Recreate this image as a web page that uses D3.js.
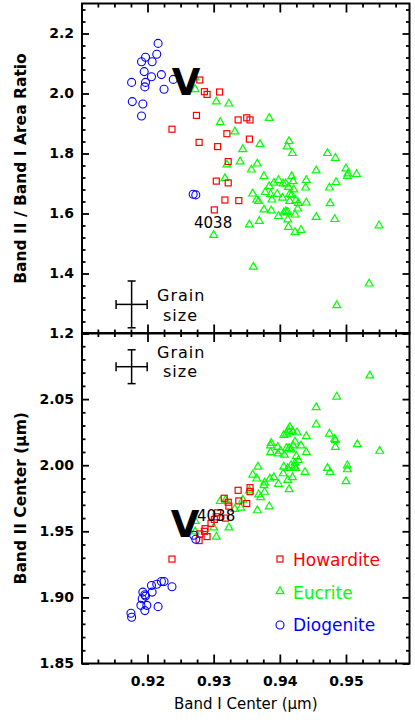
<!DOCTYPE html>
<html>
<head>
<meta charset="utf-8">
<script src="https://cdn.jsdelivr.net/npm/d3@7"></script>
<style>
html,body{margin:0;padding:0;background:#fff;}
svg{display:block;}
text{font-family:"DejaVu Sans",sans-serif;}
</style>
</head>
<body>
<svg id="chart" width="415" height="723"></svg>
<script>
// ---------------- DATA ----------------
const xTickLabels = ["0.92","0.93","0.94","0.95"];
const xMajor = [0.92,0.93,0.94,0.95];
const topYTicks = [1.2,1.4,1.6,1.8,2.0,2.2];
const topYLabels = ["1.2","1.4","1.6","1.8","2.0","2.2"];
const botYTicks = [1.85,1.90,1.95,2.00,2.05];
const botYLabels = ["1.85","1.90","1.95","2.00","2.05"];

// Top panel: Band I center vs Band II / Band I area ratio
const diogeniteTop = [[0.9216,2.167],[0.9214,2.131],[0.9197,2.121],[0.9191,2.106],[0.9207,2.106],[0.9195,2.073],[0.9221,2.063],[0.9206,2.056],[0.9239,2.047],[0.9176,2.037],[0.9197,2.037],[0.9196,2.022],[0.9225,2.014],[0.9177,1.973],[0.9193,1.965],[0.9191,1.925],[0.9269,1.664],[0.9273,1.662]];
const howarditeTop = [[0.9279,2.045],[0.9286,2.006],[0.9290,1.997],[0.9309,2.005],[0.9274,1.927],[0.9337,1.912],[0.9350,1.919],[0.9355,1.912],[0.9237,1.881],[0.9320,1.866],[0.9354,1.848],[0.9278,1.837],[0.9306,1.823],[0.9322,1.773],[0.9304,1.708],[0.9322,1.702],[0.9317,1.645],[0.9338,1.643],[0.9301,1.612]];
const eucriteTop = [[0.9272,2.054],[0.9272,2.015],[0.9304,1.974],[0.9323,1.967],[0.9384,1.919],[0.9310,1.905],[0.9332,1.874],[0.9414,1.842],[0.9411,1.824],[0.9370,1.832],[0.9344,1.815],[0.9419,1.802],[0.9472,1.802],[0.9484,1.786],[0.9340,1.774],[0.9366,1.767],[0.9320,1.764],[0.9500,1.751],[0.9357,1.747],[0.9455,1.744],[0.9503,1.734],[0.9502,1.726],[0.9516,1.732],[0.9317,1.718],[0.9376,1.725],[0.9418,1.725],[0.9440,1.712],[0.9420,1.708],[0.9398,1.712],[0.9391,1.703],[0.9405,1.701],[0.9409,1.701],[0.9485,1.705],[0.9384,1.692],[0.9413,1.689],[0.9439,1.687],[0.9475,1.687],[0.9421,1.681],[0.9359,1.667],[0.9378,1.672],[0.9386,1.665],[0.9396,1.666],[0.9415,1.666],[0.9418,1.663],[0.9404,1.653],[0.9365,1.647],[0.9368,1.642],[0.9388,1.647],[0.9415,1.642],[0.9424,1.645],[0.9428,1.636],[0.9440,1.637],[0.9476,1.635],[0.9427,1.617],[0.9376,1.614],[0.9387,1.611],[0.9409,1.608],[0.9406,1.604],[0.9412,1.606],[0.9423,1.597],[0.9398,1.592],[0.9455,1.589],[0.9369,1.576],[0.9354,1.564],[0.9412,1.581],[0.9483,1.582],[0.9413,1.556],[0.9423,1.539],[0.9432,1.546],[0.9550,1.561],[0.9300,1.529],[0.9360,1.423],[0.9535,1.367],[0.9486,1.295]];

// Bottom panel: Band I center vs Band II center
const diogeniteBot = [[0.9270,1.947],[0.9273,1.944],[0.9237,1.908],[0.9225,1.912],[0.9221,1.912],[0.9214,1.910],[0.9206,1.909],[0.9207,1.904],[0.9193,1.904],[0.9196,1.902],[0.9192,1.899],[0.9197,1.901],[0.9190,1.894],[0.9199,1.894],[0.9196,1.890],[0.9216,1.893],[0.9175,1.888],[0.9176,1.885]];
const howarditeBot = [[0.9237,1.929],[0.9278,1.943],[0.9279,1.948],[0.9286,1.950],[0.9290,1.946],[0.9301,1.959],[0.9304,1.961],[0.9306,1.964],[0.9318,1.960],[0.9316,1.975],[0.9322,1.972],[0.9323,1.969],[0.9337,1.981],[0.9338,1.973],[0.9350,1.971],[0.9355,1.983],[0.9355,1.980],[0.9287,1.952],[0.9296,1.956]];
const eucriteBot = [[0.9536,2.068],[0.9486,2.052],[0.9455,2.044],[0.9455,2.031],[0.9415,2.029],[0.9414,2.025],[0.9419,2.026],[0.9426,2.025],[0.9406,2.023],[0.9410,2.024],[0.9440,2.022],[0.9475,2.024],[0.9483,2.020],[0.9484,2.019],[0.9517,2.016],[0.9551,2.011],[0.9484,2.014],[0.9387,2.017],[0.9386,2.015],[0.9397,2.014],[0.9410,2.013],[0.9414,2.013],[0.9417,2.012],[0.9423,2.018],[0.9432,2.015],[0.9386,2.010],[0.9401,2.011],[0.9397,2.009],[0.9407,2.008],[0.9425,2.007],[0.9440,2.010],[0.9428,2.004],[0.9423,2.002],[0.9417,2.000],[0.9422,1.999],[0.9406,1.999],[0.9367,1.999],[0.9424,1.998],[0.9438,1.995],[0.9405,1.994],[0.9359,1.993],[0.9365,1.990],[0.9385,1.990],[0.9391,1.991],[0.9419,1.991],[0.9412,1.989],[0.9377,1.987],[0.9376,1.985],[0.9398,1.986],[0.9377,1.980],[0.9414,1.982],[0.9354,1.981],[0.9368,1.978],[0.9371,1.976],[0.9344,1.974],[0.9310,1.973],[0.9318,1.974],[0.9332,1.967],[0.9341,1.968],[0.9366,1.966],[0.9384,1.969],[0.9300,1.953],[0.9323,1.953],[0.9272,1.958],[0.9272,1.950],[0.9304,1.946],[0.9472,1.998],[0.9476,1.995],[0.9502,2.000],[0.9502,1.997],[0.9500,1.988],[0.9412,1.998],[0.9413,2.027],[0.9420,2.015]];

// grain-size error bars [xCenter, xHalf, yCenter, yHalf]
const grainTop = [0.9176, 0.00235, 1.297, 0.078];
const grainBot = [0.9176, 0.00235, 2.0745, 0.0128];

const legendItems = [
  {name:"Howardite", color:"#ff0000", shape:"square"},
  {name:"Eucrite", color:"#00ff00", shape:"triangle"},
  {name:"Diogenite", color:"#0000ff", shape:"circle"}
];

// ---------------- CHART ----------------
const svg = d3.select("#chart");
const L = 82, R = 409.5;
const x = d3.scaleLinear().domain([0.9101, 0.9596]).range([L, R]);
const yTop = d3.scaleLinear().domain([1.2, 2.3]).range([333.5, 3.5]);
const yBot = d3.scaleLinear().domain([1.85, 2.10]).range([663.5, 333]);

const xMinor = d3.range(0.9125, 0.9596, 0.0025).filter(v => !xMajor.some(m => Math.abs(m - v) < 1e-6));
const topMinor = d3.range(1.24, 2.3, 0.04).filter(v => !topYTicks.some(m => Math.abs(m - v) < 1e-6));
const botMinor = d3.range(1.86, 2.10, 0.01).filter(v => !botYTicks.some(m => Math.abs(m - v) < 1e-6) && Math.abs(v-2.10)>1e-6);

function styleAxis(g){
  g.select(".domain").remove();
  g.selectAll("line").attr("stroke","#000").attr("stroke-width",1.8);
  g.selectAll("text").attr("fill","#000").attr("font-size","14px").attr("font-weight","bold")
    .attr("font-family","DejaVu Sans, sans-serif");
}

function panel(y, yTicks, yLabels, yMinor, top, bottom, showXLabels){
  svg.append("g").attr("transform",`translate(0,${top})`)
    .call(d3.axisTop(x).tickValues(xMajor).tickSize(-9).tickFormat("")).call(styleAxis);
  svg.append("g").attr("transform",`translate(0,${top})`)
    .call(d3.axisTop(x).tickValues(xMinor).tickSize(-4).tickFormat("")).call(styleAxis);
  const bx = d3.axisBottom(x).tickValues(xMajor).tickSize(-9).tickPadding(13)
    .tickFormat(showXLabels ? ((d,i) => xTickLabels[i]) : "");
  svg.append("g").attr("transform",`translate(0,${bottom})`).call(bx).call(styleAxis);
  svg.append("g").attr("transform",`translate(0,${bottom})`)
    .call(d3.axisBottom(x).tickValues(xMinor).tickSize(-4).tickFormat("")).call(styleAxis);
  svg.append("g").attr("transform",`translate(${L},0)`)
    .call(d3.axisLeft(y).tickValues(yTicks).tickSize(-7).tickPadding(8).tickFormat((d,i)=>yLabels[i])).call(styleAxis);
  svg.append("g").attr("transform",`translate(${L},0)`)
    .call(d3.axisLeft(y).tickValues(yMinor).tickSize(-3.5).tickFormat("")).call(styleAxis);
  svg.append("g").attr("transform",`translate(${R},0)`)
    .call(d3.axisRight(y).tickValues(yTicks).tickSize(-7).tickFormat("")).call(styleAxis);
  svg.append("g").attr("transform",`translate(${R},0)`)
    .call(d3.axisRight(y).tickValues(yMinor).tickSize(-3.5).tickFormat("")).call(styleAxis);
  svg.append("rect").attr("x",L).attr("y",top).attr("width",R-L).attr("height",bottom-top)
    .attr("fill","none").attr("stroke","#000").attr("stroke-width",2);
}

panel(yTop, topYTicks, topYLabels, topMinor, yTop(2.3), yTop(1.2), false);
panel(yBot, botYTicks, botYLabels, botMinor, yBot(2.10), yBot(1.85), true);

// markers
const triPath = "M0,-4.2L3.9,2.6L-3.9,2.6Z";
function drawSquares(data, y){
  svg.append("g").selectAll("rect").data(data).join("rect")
    .attr("x", d => x(d[0]) - 3).attr("y", d => y(d[1]) - 3)
    .attr("width",6).attr("height",6)
    .attr("fill","none").attr("stroke","#ff0000").attr("stroke-width",1.2);
}
function drawTris(data, y){
  svg.append("g").selectAll("path").data(data).join("path")
    .attr("d", triPath)
    .attr("transform", d => `translate(${x(d[0])},${y(d[1])})`)
    .attr("fill","none").attr("stroke","#00ff00").attr("stroke-width",1.2);
}
function drawCircles(data, y){
  svg.append("g").selectAll("circle").data(data).join("circle")
    .attr("cx", d => x(d[0])).attr("cy", d => y(d[1])).attr("r",4)
    .attr("fill","none").attr("stroke","#0000ff").attr("stroke-width",1.1);
}
drawTris(eucriteTop, yTop);
drawSquares(howarditeTop, yTop);
drawCircles(diogeniteTop, yTop);
drawTris(eucriteBot, yBot);
drawSquares(howarditeBot, yBot);
drawCircles(diogeniteBot, yBot);

// grain size error bars
function grain(g, y, textX, textY1, textY2){
  const [cx, hx, cy, hy] = g;
  const grp = svg.append("g").attr("stroke","#000").attr("stroke-width",1.5);
  grp.append("line").attr("x1",x(cx-hx)).attr("x2",x(cx+hx)).attr("y1",y(cy)).attr("y2",y(cy));
  grp.append("line").attr("x1",x(cx)).attr("x2",x(cx)).attr("y1",y(cy-hy)).attr("y2",y(cy+hy));
  grp.append("line").attr("x1",x(cx-hx)).attr("x2",x(cx-hx)).attr("y1",y(cy)-4.5).attr("y2",y(cy)+4.5);
  grp.append("line").attr("x1",x(cx+hx)).attr("x2",x(cx+hx)).attr("y1",y(cy)-4.5).attr("y2",y(cy)+4.5);
  grp.append("line").attr("x1",x(cx)-4).attr("x2",x(cx)+4).attr("y1",y(cy+hy)).attr("y2",y(cy+hy));
  grp.append("line").attr("x1",x(cx)-4).attr("x2",x(cx)+4).attr("y1",y(cy-hy)).attr("y2",y(cy-hy));
  svg.append("text").attr("x",textX).attr("y",textY1).attr("font-size","16px")
    .attr("letter-spacing","1px").text("Grain");
  svg.append("text").attr("x",textX+6).attr("y",textY2).attr("font-size","16px")
    .attr("letter-spacing","1px").text("size");
}
grain(grainTop, yTop, 157, 301, 320.5);
grain(grainBot, yBot, 157, 357.5, 376.5);

// V labels and 4038 labels
const vFont = "'Liberation Sans Narrow','DejaVu Sans Condensed','DejaVu Sans',sans-serif";
svg.append("text").attr("x",186).attr("y",95).attr("text-anchor","middle")
  .attr("font-size","37px").attr("font-weight","bold").attr("font-family",vFont).text("V");
svg.append("text").attr("x",185).attr("y",537).attr("text-anchor","middle")
  .attr("font-size","37px").attr("font-weight","bold").attr("font-family",vFont).text("V");
svg.append("text").attr("x",194).attr("y",228).attr("font-size","15px").text("4038");
svg.append("text").attr("x",197).attr("y",521).attr("font-size","15px").text("4038");

// legend
const legY = [559, 591, 625];
const legBase = [566, 599, 631];
legendItems.forEach((it, i) => {
  const lx = 280, ly = legY[i];
  if (it.shape === "square") {
    svg.append("rect").attr("x",lx-3).attr("y",ly-3).attr("width",6).attr("height",6)
      .attr("fill","none").attr("stroke",it.color).attr("stroke-width",1.2);
  } else if (it.shape === "triangle") {
    svg.append("path").attr("d",triPath).attr("transform",`translate(${lx},${ly})`)
      .attr("fill","none").attr("stroke",it.color).attr("stroke-width",1.2);
  } else {
    svg.append("circle").attr("cx",lx).attr("cy",ly).attr("r",4)
      .attr("fill","none").attr("stroke",it.color).attr("stroke-width",1.1);
  }
  svg.append("text").attr("x",293).attr("y",legBase[i]).attr("font-size","17px")
    .attr("fill",it.color).text(it.name);
});

// axis titles
svg.append("text").attr("transform",`translate(26,${(yTop(2.3)+yTop(1.2))/2}) rotate(-90)`)
  .attr("text-anchor","middle").attr("font-size","15.5px").attr("font-weight","bold")
  .text("Band II / Band I Area Ratio");
svg.append("text").attr("transform",`translate(26,${(yBot(2.10)+yBot(1.85))/2}) rotate(-90)`)
  .attr("text-anchor","middle").attr("font-size","15.5px").attr("font-weight","bold")
  .text("Band II Center (μm)");
svg.append("text").attr("x",(L+R)/2).attr("y",709).attr("text-anchor","middle")
  .attr("font-size","15px").text("Band I Center (μm)");
</script>
</body>
</html>
